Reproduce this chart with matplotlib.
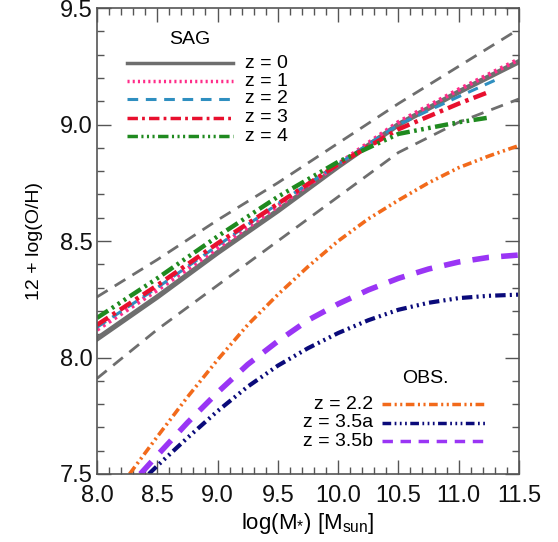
import matplotlib
matplotlib.use("Agg")
import matplotlib.pyplot as plt
import numpy as np

plt.rcParams['font.family'] = ['Liberation Sans', 'DejaVu Sans']
plt.rcParams['mathtext.fontset'] = 'custom'
plt.rcParams['mathtext.rm'] = 'Liberation Sans'
plt.rcParams['mathtext.it'] = 'Liberation Sans:italic'
plt.rcParams['mathtext.bf'] = 'Liberation Sans:bold'

# ---- SAG model curves ----
x_sag = [8.0, 8.5, 9.0, 9.5, 10.0, 10.5, 11.0, 11.5]
z0 = [8.08, 8.26, 8.45, 8.63, 8.82, 9.00, 9.14, 9.27]
z1 = [8.12, 8.29, 8.47, 8.65, 8.83, 9.01, 9.15, 9.28]
x_z2 = [8.0, 8.5, 9.0, 9.5, 10.0, 10.5, 11.0, 11.3]
z2 = [8.13, 8.30, 8.48, 8.66, 8.83, 9.00, 9.12, 9.19]
x_z34 = [8.0, 8.5, 9.0, 9.5, 10.0, 10.5, 11.0, 11.25]
z3 = [8.14, 8.31, 8.49, 8.66, 8.83, 8.98, 9.09, 9.14]
z4 = [8.17, 8.34, 8.52, 8.69, 8.84, 8.96, 9.01, 9.03]
env_upper = [8.26, 8.42, 8.59, 8.75, 8.92, 9.09, 9.25, 9.41]
env_lower = [7.91, 8.12, 8.31, 8.50, 8.69, 8.88, 9.01, 9.11]

# ---- observational relations ----
x_z22 = [8.27, 8.5, 8.75, 9.0, 9.25, 9.5, 9.75, 10.0, 10.25, 10.5, 10.75, 11.0, 11.25, 11.5]
z22 = [7.50, 7.66, 7.83, 7.99, 8.14, 8.27, 8.39, 8.50, 8.595, 8.675, 8.75, 8.815, 8.865, 8.91]
x_z35a = [8.43, 8.5, 8.75, 9.0, 9.25, 9.5, 9.75, 10.0, 10.25, 10.5, 10.75, 11.0, 11.25, 11.5]
z35a = [7.50, 7.535, 7.655, 7.77, 7.875, 7.965, 8.04, 8.105, 8.16, 8.205, 8.235, 8.255, 8.265, 8.27]
x_z35b = [8.36, 8.5, 8.75, 9.0, 9.25, 9.5, 9.75, 10.0, 10.25, 10.5, 10.75, 11.0, 11.25, 11.5]
z35b = [7.50, 7.58, 7.72, 7.85, 7.97, 8.07, 8.16, 8.23, 8.29, 8.34, 8.38, 8.41, 8.43, 8.44]

sag_labels = ['z = 0', 'z = 1', 'z = 2', 'z = 3', 'z = 4']
obs_labels = ['z = 2.2', 'z = 3.5a', 'z = 3.5b']

fig = plt.figure(figsize=(5.58, 5.42), dpi=100)
ax = fig.add_axes([0.1738, 0.1255, 0.7562, 0.8595])

c_gray = '#6e6e6e'
sag_colors = ['#6e6e6e', '#ff2d8a', '#2f8fc0', '#e8102e', '#1f8a1f']
sag_styles = ['-',
              (0, (0.6, 0.9)),
              (0, (3.5, 2.5)),
              (0, (3.0, 1.2, 0.8, 1.2)),
              (0, (3.0, 1.0, 0.6, 1.0, 0.6, 1.0, 0.6, 1.0))]
sag_lws = [3.8, 3.3, 2.2, 3.2, 3.2]

obs_colors = ['#f26a1b', '#0a0a7a', '#9a35f5']
obs_styles = [(0, (2.5, 1.0, 0.6, 1.0, 0.6, 1.0)),
              (0, (2.5, 1.0, 0.5, 1.0, 0.5, 1.0, 0.5, 1.0)),
              (0, (3.0, 2.2))]
obs_lws = [2.6, 3.0, 4.0]
s_env = (0, (4.5, 3.0))

ax.plot(x_sag, env_upper, color=c_gray, lw=2.0, ls=s_env)
ax.plot(x_sag, env_lower, color=c_gray, lw=2.0, ls=s_env)

sag_x = [x_sag, x_sag, x_z2, x_z34, x_z34]
sag_y = [z0, z1, z2, z3, z4]
for xx, yy, c, s, w in zip(sag_x, sag_y, sag_colors, sag_styles, sag_lws):
    ax.plot(xx, yy, color=c, ls=s, lw=w)

obs_x = [x_z22, x_z35a, x_z35b]
obs_y_vals = [z22, z35a, z35b]
for xx, yy, c, s, w in zip(obs_x, obs_y_vals, obs_colors, obs_styles, obs_lws):
    ax.plot(xx, yy, color=c, ls=s, lw=w)

ax.set_xlim(8.0, 11.5)
ax.set_ylim(7.5, 9.5)
ax.set_xticks(np.arange(8.0, 11.51, 0.5))
ax.set_yticks(np.arange(7.5, 9.51, 0.5))
ax.set_xticks(np.arange(8.0, 11.51, 0.1), minor=True)
ax.set_yticks(np.arange(7.5, 9.51, 0.1), minor=True)
ax.set_xticklabels(['%.1f' % v for v in np.arange(8.0, 11.51, 0.5)])
ax.set_yticklabels(['%.1f' % v for v in np.arange(7.5, 9.51, 0.5)])
ax.tick_params(which='both', direction='in', top=True, right=True,
               color='#555555', labelsize=17, labelcolor='#111111')
ax.tick_params(which='major', length=10, width=1.0)
ax.tick_params(axis='x', which='major', pad=8)
ax.tick_params(axis='y', which='major', pad=3)
ax.tick_params(which='minor', length=5, width=1.0)
for sp in ax.spines.values():
    sp.set_color('#555555')
    sp.set_linewidth(1.2)

ax.set_xlabel(r'log(M$_{*}$) [M$_{\rm sun}$]', fontsize=16, labelpad=3)
ax.set_ylabel('12 + log(O/H)', fontsize=14, labelpad=12)

# SAG legend
ax.text(8.77, 9.365, 'SAG', fontsize=14, ha='center', va='center')
leg_y = [9.264, 9.187, 9.11, 9.03, 8.95]
for c, s, w, lab, yy in zip(sag_colors, sag_styles, sag_lws, sag_labels, leg_y):
    ax.plot([8.25, 9.13], [yy, yy], color=c, lw=min(w, 2.5), ls=s)
    ax.text(9.23, yy, lab, fontsize=14, ha='left', va='center')

# OBS legend
ax.text(10.72, 7.91, 'OBS.', fontsize=14, ha='center', va='center')
obs_leg_y = [7.80, 7.72, 7.64]
for c, s, w, lab, yy in zip(obs_colors, obs_styles, obs_lws, obs_labels, obs_leg_y):
    ax.plot([10.36, 11.22], [yy, yy], color=c, lw=min(w, 2.5), ls=s)
    ax.text(10.29, yy, lab, fontsize=14, ha='right', va='center')

fig.savefig('out.png', dpi=100)
